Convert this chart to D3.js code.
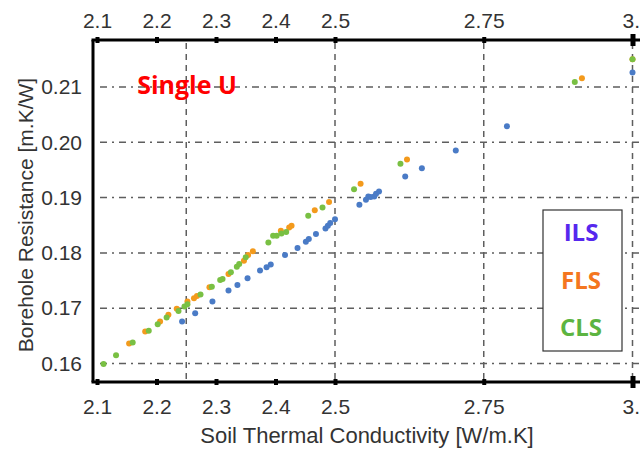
<!DOCTYPE html>
<html><head><meta charset="utf-8">
<script src="https://cdn.jsdelivr.net/npm/d3@7"></script>
<style>
html,body{margin:0;padding:0;background:#fff;overflow:hidden}
svg{display:block}
</style></head>
<body>
<svg id="chart" width="640" height="452"></svg>
<script>
// ---- data ----
const xTicks = [2.1, 2.2, 2.3, 2.4, 2.5, 2.75, 3.0];
const xTickLabels = ["2.1", "2.2", "2.3", "2.4", "2.5", "2.75", "3."];
const xGrid = [2.25, 2.5, 2.75, 3.0];
const yTicks = [0.16, 0.17, 0.18, 0.19, 0.20, 0.21];
const yTickLabels = ["0.16", "0.17", "0.18", "0.19", "0.20", "0.21"];
const seriesNames = ["ILS", "FLS", "CLS"];

const ilsK = [2.243,2.265,2.294,2.321,2.336,2.353,2.374,2.385,2.392,2.416,2.437,2.451,2.456,2.468,2.484,2.488,2.492,2.500,2.541,2.552,2.556,2.560,2.566,2.569,2.574,2.618,2.646,2.703,2.789,3.000];
const ilsR = [0.1676,0.1691,0.1712,0.1732,0.1742,0.1754,0.1768,0.1774,0.1779,0.1796,0.1809,0.1820,0.1825,0.1834,0.1844,0.1849,0.1854,0.1861,0.1887,0.1896,0.1902,0.1901,0.1902,0.1907,0.1911,0.1938,0.1953,0.1985,0.2029,0.2126];

const flsK = [2.154,2.181,2.206,2.220,2.234,2.252,2.263,2.268,2.289,2.321,2.347,2.354,2.362,2.409,2.423,2.427,2.466,2.490,2.543,2.621,2.915,3.000];
const flsR = [0.1636,0.1658,0.1676,0.1688,0.1699,0.1712,0.1718,0.1722,0.1738,0.1762,0.1786,0.1796,0.1803,0.1840,0.1846,0.1849,0.1877,0.1892,0.1925,0.1969,0.2116,0.2150];

const clsK = [2.111,2.132,2.160,2.187,2.202,2.217,2.237,2.247,2.252,2.274,2.293,2.307,2.311,2.325,2.335,2.339,2.350,2.388,2.396,2.402,2.410,2.418,2.455,2.479,2.532,2.610,2.903,3.000];
const clsR = [0.1599,0.1615,0.1638,0.1659,0.1671,0.1683,0.1695,0.1703,0.1707,0.1725,0.1739,0.1751,0.1753,0.1765,0.1775,0.1780,0.1792,0.1819,0.1831,0.1831,0.1835,0.1838,0.1867,0.1882,0.1915,0.1961,0.2109,0.2150];

// ---- chart ----
const svg = d3.select("#chart");
const x = d3.scaleLinear().domain([2.1, 3.0]).range([97, 632.5]);
const y = d3.scaleLinear().domain([0.16, 0.21]).range([363.5, 87]);
const plotTop = 40, plotBottom = 382, plotLeft = 93, plotRight = 640;

const tickFont = "'Liberation Sans', Arial, sans-serif";

// gridlines
const grid = svg.append("g");
grid.selectAll("line.h").data(yTicks).join("line")
  .attr("x1", 100).attr("x2", plotRight)
  .attr("y1", d => y(d)).attr("y2", d => y(d))
  .attr("stroke", "#5e5e5e").attr("stroke-width", 1.5)
  .attr("stroke-dasharray", "7,5,2,5");
grid.selectAll("line.v").data(xGrid).join("line")
  .attr("x1", d => x(d)).attr("x2", d => x(d))
  .attr("y1", plotTop + 3).attr("y2", plotBottom - 2)
  .attr("stroke", "#5e5e5e").attr("stroke-width", 1.5)
  .attr("stroke-dasharray", "6,5");

// series points
const colors = {ILS: "#4a7bc6", FLS: "#f39a1c", CLS: "#79c043"};
const series = [
  {name: "ILS", k: ilsK, r: ilsR},
  {name: "FLS", k: flsK, r: flsR},
  {name: "CLS", k: clsK, r: clsR}
];
series.forEach(s => {
  const pts = s.k.map((k, i) => ({k, r: s.r[i]}));
  svg.append("g").selectAll("circle").data(pts).join("circle")
    .attr("cx", d => x(d.k)).attr("cy", d => y(d.r)).attr("r", 3)
    .attr("fill", colors[s.name]);
});

// axes
const fmtX = d => xTickLabels[xTicks.indexOf(d)];
const fmtY = d => yTickLabels[yTicks.indexOf(d)];

const axB = svg.append("g").attr("transform", `translate(0,${plotBottom})`)
  .call(d3.axisBottom(x).tickValues(xTicks).tickFormat(fmtX).tickSize(3).tickSizeOuter(0).tickPadding(14));
const axT = svg.append("g").attr("transform", `translate(0,${plotTop})`)
  .call(d3.axisTop(x).tickValues(xTicks).tickFormat(fmtX).tickSize(3).tickSizeOuter(0).tickPadding(9));
const axL = svg.append("g").attr("transform", `translate(${plotLeft},0)`)
  .call(d3.axisLeft(y).tickValues(yTicks).tickFormat(fmtY).tickSize(0).tickPadding(11));

[axB, axT, axL].forEach(a => {
  a.select(".domain").remove();
  a.selectAll("text").attr("font-family", tickFont).attr("font-size", 21).attr("fill", "#333");
});
// keep last label inside the page edge
[axB, axT].forEach(a => {
  a.selectAll(".tick").filter(d => d === 3.0).select("text")
    .attr("text-anchor", "end").attr("x", 640 - x(3.0) - 0.5);
});
axB.selectAll(".tick line").attr("stroke", "#000").attr("stroke-width", 4).attr("y1", -3).attr("y2", 3);
axT.selectAll(".tick line").attr("stroke", "#000").attr("stroke-width", 4).attr("y1", 3).attr("y2", -3);
axL.selectAll(".tick line").remove();
axT.selectAll(".tick line").filter(d => d === 3.0).attr("stroke-width", 5).attr("y1", 6).attr("y2", -6);
axB.selectAll(".tick line").filter(d => d === 3.0).attr("stroke-width", 5).attr("y1", -6).attr("y2", 6);

// frame lines
svg.append("line").attr("x1", plotLeft - 1.5).attr("x2", plotRight).attr("y1", plotTop).attr("y2", plotTop)
  .attr("stroke", "#000").attr("stroke-width", 3);
svg.append("line").attr("x1", plotLeft - 1.5).attr("x2", plotRight).attr("y1", plotBottom).attr("y2", plotBottom)
  .attr("stroke", "#000").attr("stroke-width", 3);
svg.append("line").attr("x1", plotLeft).attr("x2", plotLeft).attr("y1", plotTop).attr("y2", plotBottom)
  .attr("stroke", "#000").attr("stroke-width", 3);

// axis titles
svg.append("text").attr("x", 367).attr("y", 443).attr("text-anchor", "middle")
  .attr("font-family", tickFont).attr("font-size", 22).attr("fill", "#333")
  .text("Soil Thermal Conductivity [W/m.K]");
svg.append("text").attr("transform", "translate(33,215) rotate(-90)").attr("text-anchor", "middle")
  .attr("font-family", tickFont).attr("font-size", 21).attr("fill", "#333")
  .text("Borehole Resistance [m.K/W]");

// annotation
svg.append("text").attr("x", 187).attr("y", 94).attr("text-anchor", "middle")
  .attr("font-family", "'Open Sans', sans-serif").attr("font-weight", "bold").attr("font-size", 25)
  .attr("fill", "#ff0000").text("Single U");

// legend
const lg = svg.append("g");
lg.append("rect").attr("x", 543).attr("y", 210).attr("width", 79).attr("height", 141)
  .attr("fill", "#fff").attr("stroke", "#333").attr("stroke-width", 1.2);
const legendColors = {ILS: "#5628ee", FLS: "#f47620", CLS: "#5cb441"};
lg.selectAll("text").data(seriesNames).join("text")
  .attr("x", 581).attr("y", (d, i) => 241 + i * 47.5).attr("text-anchor", "middle")
  .attr("font-family", "'Open Sans', sans-serif").attr("font-weight", "bold").attr("font-size", 24)
  .attr("fill", d => legendColors[d]).text(d => d);
</script>
</body></html>
